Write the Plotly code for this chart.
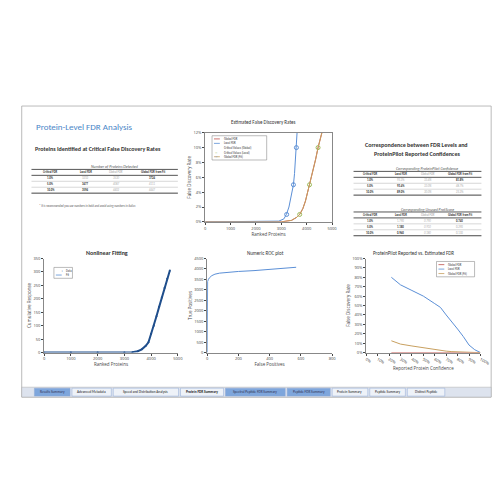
import plotly.graph_objects as go

# --- data ---
fdr_levels = ["1.0%", "5.0%", "10.0%"]
prot_local = ["3210", "3477", "3594"]
prot_global = ["3530", "4087", "4402"]
prot_fit = ["3724", "4111", "4447"]
conf_local = ["93.2%", "93.4%", "89.0%"]
conf_global = ["33.4%", "33.0%", "30.0%"]
conf_fit = ["81.8%", "48.7%", "23.2%"]
score_local = ["1.790", "1.180", "0.960"]
score_global = ["0.790", "0.910", "0.180"]
score_fit = ["0.740", "0.290", "0.130"]

rank_x = [0, 2500, 2900, 3100, 3200, 3300, 3400, 3477, 3520, 3560, 3594, 3620]
local_fdr = [0, 0.0, 0.001, 0.004, 0.01, 0.02, 0.035, 0.05, 0.065, 0.085, 0.10, 0.12]
glob_x = [0, 3000, 3400, 3600, 3724, 3850, 3950, 4050, 4111, 4250, 4350, 4447, 4560, 4620]
glob_fdr = [0, 0.0, 0.002, 0.006, 0.01, 0.018, 0.028, 0.042, 0.05, 0.068, 0.084, 0.10, 0.115, 0.123]
crit_glob_x = [3724, 4111, 4447]
crit_loc_x = [3210, 3477, 3594]
crit_y = [0.01, 0.05, 0.10]

fit_x = [0, 1000, 2000, 3000, 3300, 3500, 3650, 3800, 3900, 4000, 4100, 4200, 4300, 4400, 4500, 4600, 4700]
fit_y = [0, 0, 0, 0, 1, 5, 12, 25, 38, 70, 100, 135, 170, 205, 240, 275, 305]

fp = [0, 1, 3, 8, 15, 30, 50, 80, 120, 200, 300, 400, 500, 570]
tp = [0, 3100, 3400, 3500, 3580, 3680, 3750, 3800, 3830, 3880, 3920, 3980, 4040, 4080]

conf_x = [0.22, 0.3, 0.4, 0.5, 0.6, 0.65, 0.7, 0.75, 0.8, 0.85, 0.9, 0.95, 1.0]
conf_loc = [0.80, 0.72, 0.66, 0.60, 0.52, 0.48, 0.40, 0.33, 0.25, 0.17, 0.08, 0.03, 0.0]
conf_glob = [0.0, 0.0, 0.0, 0.0, 0.0, 0.0, 0.0, 0.0, 0.0, 0.0, 0.0, 0.0, 0.0]
conf_gfit = [0.125, 0.09, 0.07, 0.05, 0.03, 0.025, 0.015, 0.01, 0.006, 0.004, 0.002, 0.001, 0.0]

tabs = ["Results Summary", "Advanced Metadata", "Speed and Distribution Analysis", "Protein FDR Summary",
        "Spectral Peptide FDR Summary", "Peptide FDR Summary", "Protein Summary", "Peptide Summary", "Distinct Peptide"]
tab_blue = [True, False, False, False, True, True, False, False, False]

W = 500
def px(x): return x / W
def py(y): return 1 - y / W

fig = go.Figure()
BLUE = "#5b8fd6"; RED = "#c0504d"; TAN = "#c8a060"; GREEN = "#9bbb59"

def dom(x0, x1, y0, y1):
    return [px(x0), px(x1)], [py(y1), py(y0)]

def axis_style(**kw):
    d = dict(showgrid=False, zeroline=False, showline=True, linecolor="#888", ticks="outside",
             ticklen=2, tickfont=dict(size=4, color="#444"), title_font=dict(size=4.5, color="#444"),
             title_standoff=1)
    d.update(kw); return d

# chart 1
xd, yd = dom(200, 330, 123, 213)
fig.add_trace(go.Scatter(x=glob_x, y=glob_fdr, mode="lines", line=dict(color=RED, width=1), xaxis="x", yaxis="y"))
fig.add_trace(go.Scatter(x=rank_x, y=local_fdr, mode="lines", line=dict(color=BLUE, width=1), xaxis="x", yaxis="y"))
fig.add_trace(go.Scatter(x=crit_glob_x, y=crit_y, mode="markers", marker=dict(symbol="circle-open", color=GREEN, size=4), xaxis="x", yaxis="y"))
fig.add_trace(go.Scatter(x=crit_loc_x, y=crit_y, mode="markers", marker=dict(symbol="circle-open", color=BLUE, size=4), xaxis="x", yaxis="y"))
fig.add_trace(go.Scatter(x=glob_x, y=glob_fdr, mode="lines", line=dict(color=TAN, width=1), xaxis="x", yaxis="y"))
fig.update_layout(
    xaxis=axis_style(domain=xd, range=[0, 5000], dtick=1000, title_text="Ranked Proteins", anchor="y", mirror=True),
    yaxis=axis_style(domain=yd, range=[0, 0.12], dtick=0.02, tickformat=".0%", title_text="False Discovery Rate", anchor="x", mirror=True))

# chart 2
xd, yd = dom(35, 172, 250, 345)
fig.add_trace(go.Scatter(x=fit_x, y=fit_y, mode="lines+markers", marker=dict(size=2, color="#1f4e8c"), line=dict(color="#1f4e8c", width=2), xaxis="x2", yaxis="y2"))
fig.update_layout(
    xaxis2=axis_style(domain=xd, range=[0, 5000], dtick=1000, title_text="Ranked Proteins", anchor="y2"),
    yaxis2=axis_style(domain=yd, range=[0, 350], dtick=50, title_text="Cumulative Response", anchor="x2"))

# chart 3
xd, yd = dom(202, 330, 250, 345)
fig.add_trace(go.Scatter(x=fp, y=tp, mode="lines", line=dict(color=BLUE, width=1), xaxis="x3", yaxis="y3"))
fig.update_layout(
    xaxis3=axis_style(domain=xd, range=[0, 800], dtick=200, title_text="False Positives", anchor="y3"),
    yaxis3=axis_style(domain=yd, range=[0, 4500], dtick=500, title_text="True Positives", anchor="x3"))

# chart 4
xd, yd = dom(365, 482, 250, 345)
fig.add_trace(go.Scatter(x=conf_x, y=conf_glob, mode="lines", line=dict(color=RED, width=1), xaxis="x4", yaxis="y4"))
fig.add_trace(go.Scatter(x=conf_x, y=conf_loc, mode="lines", line=dict(color=BLUE, width=1), xaxis="x4", yaxis="y4"))
fig.add_trace(go.Scatter(x=conf_x, y=conf_gfit, mode="lines", line=dict(color=TAN, width=1), xaxis="x4", yaxis="y4"))
fig.update_layout(
    xaxis4=axis_style(domain=xd, range=[0, 1], dtick=0.1, tickformat=".0%", title_text="Reported Protein Confidence", anchor="y4"),
    yaxis4=axis_style(domain=yd, range=[0, 1], dtick=0.1, tickformat=".0%", title_text="False Discovery Rate", anchor="x4"))

shapes = []
ann = []
def text(x, y, t, size=4, color="#333", bold=False, italic=False, anchor="center"):
    if bold: t = "<b>" + t + "</b>"
    if italic: t = "<i>" + t + "</i>"
    ann.append(dict(x=px(x), y=py(y), xref="paper", yref="paper", text=t, showarrow=False,
                    font=dict(size=size, color=color, family="Calibri, Liberation Sans"), xanchor=anchor, yanchor="middle"))
def rect(x0, y0, x1, y1, line="#999", fill=None, w=0.5, layer="below"):
    shapes.append(dict(type="rect", xref="paper", yref="paper", x0=px(x0), x1=px(x1), y0=py(y0), y1=py(y1),
                       line=dict(color=line, width=w), fillcolor=fill, layer=layer))
def hline(x0, x1, y, w=0.5, c="#555", dash="solid"):
    shapes.append(dict(type="line", xref="paper", yref="paper", x0=px(x0), x1=px(x1), y0=py(y), y1=py(y),
                       line=dict(color=c, width=w, dash=dash)))
def legend(x0, y0, x1, items):
    rect(x0, y0, x1, y0 + 4.5 * len(items) + 2, line="#777", fill="white", layer="above")
    for i, (lab, col, kind) in enumerate(items):
        y = y0 + 3.2 + 4.5 * i
        if kind == "line":
            hline(x0 + 2, x0 + 8, y, 0.8, col)
        else:
            ann.append(dict(x=px(x0 + 5), y=py(y), xref="paper", yref="paper", text=kind, showarrow=False,
                            font=dict(size=4, color=col)))
        text(x0 + 10, y, lab, size=3, anchor="left")

# sheet frame
rect(12, 96, 493, 390, line="#aaa", w=0.8)
rect(12, 380, 493, 390, line="#aaa", fill="#dde3ee")

text(25, 117, "Protein-Level FDR Analysis", size=9, color="#4a86c8", anchor="left")
text(90, 139, "Proteins Identified at Critical False Discovery Rates", size=6, bold=True)
text(260, 112, "Estimated False Discovery Rates", size=5)
text(99, 244, "Nonlinear Fitting", size=6, bold=True)
text(262, 244, "Numeric ROC plot", size=5)
text(413, 244, "ProteinPilot Reported vs. Estimated FDR", size=5)
text(417, 135, "Correspondence between FDR Levels and", size=6, bold=True)
text(417, 144, "ProteinPilot Reported Confidences", size=6, bold=True)

legend(207, 126, 263, [("Global FDR", RED, "line"), ("Local FDR", BLUE, "line"),
                       ("Critical Values (Global)", GREEN, "○"), ("Critical Values (Local)", BLUE, "○"),
                       ("Global FDR (Fit)", TAN, "line")])
legend(45, 259, 64, [("Data", "#1f4e8c", "+"), ("Fit", BLUE, "line")])
legend(437, 253, 476, [("Global FDR", RED, "line"), ("Local FDR", BLUE, "line"), ("Global FDR (Fit)", TAN, "line")])

def table(x0, x1, ytop, caption, c1, c2, c3):
    cols = [x0 + (x1 - x0) * f for f in (0.13, 0.37, 0.58, 0.83)]
    text((x0 + x1) / 2 + 10, ytop - 6, caption, size=4, color="#555", italic=True)
    hline(x0, x1, ytop - 3, 1)
    for c, h, col in zip(cols, ["Critical FDR", "Local FDR", "Global FDR", "Global FDR from Fit"], ["#333", "#333", "#999", "#333"]):
        text(c, ytop, h, size=3, bold=col == "#333", italic=col == "#999", color=col)
    hline(x0, x1, ytop + 3, 1)
    for i in range(3):
        y = ytop + 6 + 6 * i
        text(cols[0], y, fdr_levels[i], size=3, bold=True)
        text(cols[1], y, c1[i], size=3, bold=(i > 0), color="#333" if i > 0 else "#aaa")
        text(cols[2], y, c2[i], size=3, color="#aaa", italic=True)
        text(cols[3], y, c3[i], size=3, bold=(i == 0), color="#333" if i == 0 else "#aaa")
        hline(x0, x1, y + 3, 0.4, "#999")
    hline(x0, x1, ytop + 21, 1)

table(22, 172, 163, "Number of Proteins Detected", prot_local, prot_global, prot_fit)
text(28, 197, "* It is recommended you use numbers in bold and avoid using numbers in italics", size=3, color="#555", anchor="left", italic=True)
table(352, 483, 165, "Corresponding ProteinPilot Confidence", conf_local, conf_global, conf_fit)
table(352, 483, 206, "Corresponding Unused ProtScore", score_local, score_global, score_fit)

# tabs
xs = 25
for t, b in zip(tabs, tab_blue):
    wdt = len(t) * 1.9 + 8
    rect(xs, 381, xs + wdt, 389, line="#8ea9d6", fill="#7ea6dc" if b else "#eef2f8")
    text(xs + wdt / 2, 385, t, size=3.5, color="#335" if b else "#222", bold=(t == "Protein FDR Summary"))
    xs += wdt + 2

fig.update_layout(width=500, height=500, margin=dict(l=0, r=0, t=0, b=0), showlegend=False,
                  plot_bgcolor="white", paper_bgcolor="white", shapes=shapes, annotations=ann)
fig.write_html("out.html")
